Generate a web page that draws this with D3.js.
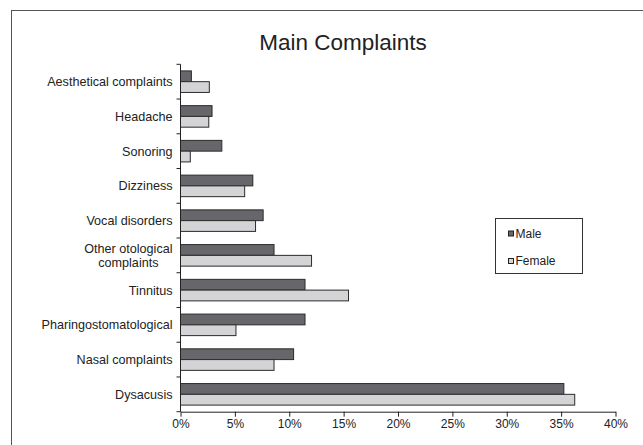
<!DOCTYPE html>
<html>
<head>
<meta charset="utf-8">
<script src="https://cdn.jsdelivr.net/npm/d3@7/dist/d3.min.js"></script>
<style>
  html, body { margin: 0; padding: 0; background: #fff; }
  svg { display: block; }
  text { font-family: "Liberation Sans", Arial, sans-serif; fill: #222; }
</style>
</head>
<body>
<svg id="chart" width="643" height="445"></svg>
<script>
const categories = [
  "Aesthetical complaints",
  "Headache",
  "Sonoring",
  "Dizziness",
  "Vocal disorders",
  "Other otological\ncomplaints",
  "Tinnitus",
  "Pharingostomatological",
  "Nasal complaints",
  "Dysacusis"
];
const seriesNames = ["Male", "Female"];
const maleValues   = [1.0, 2.9, 3.8, 6.65, 7.6, 8.6, 11.45, 11.45, 10.4, 35.25];
const femaleValues = [2.65, 2.6, 0.9, 5.9, 6.9, 12.05, 15.45, 5.1, 8.6, 36.25];
const xTicks = [0, 5, 10, 15, 20, 25, 30, 35, 40];
const titleText = "Main Complaints";

const colors = { Male: "#67676b", Female: "#d4d4d6" };

const svg = d3.select("#chart");

// outer frame (extends past right/bottom edges, like the reference)
svg.append("rect")
  .attr("x", 11.5).attr("y", 10.5)
  .attr("width", 700).attr("height", 500)
  .attr("fill", "none").attr("stroke", "#555").attr("stroke-width", 1);

const pLeft = 180.5, pRight = 615.5, pTop = 64.3, pBottom = 411.7;

const x = d3.scaleLinear().domain([0, 40]).range([pLeft, pRight]);
const y = d3.scaleBand().domain(categories).range([pTop, pBottom])
  .paddingInner(0.38).paddingOuter(0.19);
const ySub = d3.scaleBand().domain(seriesNames).range([0, y.bandwidth()]);

// title
svg.append("text")
  .attr("x", 343).attr("y", 50)
  .attr("text-anchor", "middle")
  .style("font-size", "22.5px")
  .text(titleText);

// bars
const rows = categories.map((c, i) => ({ cat: c, Male: maleValues[i], Female: femaleValues[i] }));
const g = svg.append("g");
rows.forEach(r => {
  seriesNames.forEach(s => {
    g.append("rect")
      .attr("x", x(0))
      .attr("y", y(r.cat) + ySub(s))
      .attr("width", x(r[s]) - x(0))
      .attr("height", ySub.bandwidth())
      .attr("fill", colors[s])
      .attr("stroke", "#2b2b2b")
      .attr("stroke-width", 1);
  });
});

// x axis
const xAxis = d3.axisBottom(x).tickValues(xTicks).tickFormat(d => d + "%").tickSize(5).tickSizeOuter(0);
const gx = svg.append("g").attr("transform", `translate(0,${pBottom})`).call(xAxis);
gx.select(".domain").attr("stroke", "#222");
gx.selectAll(".tick line").attr("stroke", "#222");
gx.selectAll(".tick text").style("font-size", "12px").attr("fill", "#222").attr("dy", "0.71em").attr("y", 8)
  .style("font-family", '"Liberation Sans", Arial, sans-serif');

// y axis line + ticks at band boundaries
svg.append("line").attr("x1", pLeft).attr("x2", pLeft).attr("y1", pTop).attr("y2", pBottom)
  .attr("stroke", "#222");
const step = (pBottom - pTop) / categories.length;
d3.range(categories.length + 1).forEach(i => {
  const yy = pTop + i * step;
  svg.append("line").attr("x1", pLeft - 4).attr("x2", pLeft).attr("y1", yy).attr("y2", yy)
    .attr("stroke", "#222");
});

// category labels
categories.forEach(c => {
  const lines = c.split("\n");
  const cy = y(c) + y.bandwidth() / 2;
  const lh = 14.4;
  const t = svg.append("text").style("font-size", "12.6px");
  if (lines.length === 1) {
    t.attr("x", pLeft - 8).attr("y", cy).attr("dy", "0.35em").attr("text-anchor", "end").text(c);
  } else {
    const tmp = svg.append("text").style("font-size", "12.6px");
    let maxW = 0;
    lines.forEach(l => { tmp.text(l); maxW = Math.max(maxW, tmp.node().getComputedTextLength()); });
    tmp.remove();
    const cx = pLeft - 8 - maxW / 2;
    t.attr("text-anchor", "middle");
    lines.forEach((l, i) => {
      t.append("tspan").attr("x", cx)
        .attr("y", cy + (i - (lines.length - 1) / 2) * lh)
        .attr("dy", "0.35em").text(l);
    });
  }
});

// legend
const lg = svg.append("g");
lg.append("rect").attr("x", 495.5).attr("y", 218.5).attr("width", 87).attr("height", 55)
  .attr("fill", "#fff").attr("stroke", "#333");
seriesNames.forEach((s, i) => {
  const ly = 233.5 + i * 27.5;
  lg.append("rect").attr("x", 508.5).attr("y", ly - 2.5).attr("width", 5).attr("height", 5)
    .attr("fill", colors[s]).attr("stroke", "#222");
  lg.append("text").attr("x", 515.5).attr("y", ly).attr("dy", "0.35em")
    .style("font-size", "12px").text(s);
});
</script>
</body>
</html>
